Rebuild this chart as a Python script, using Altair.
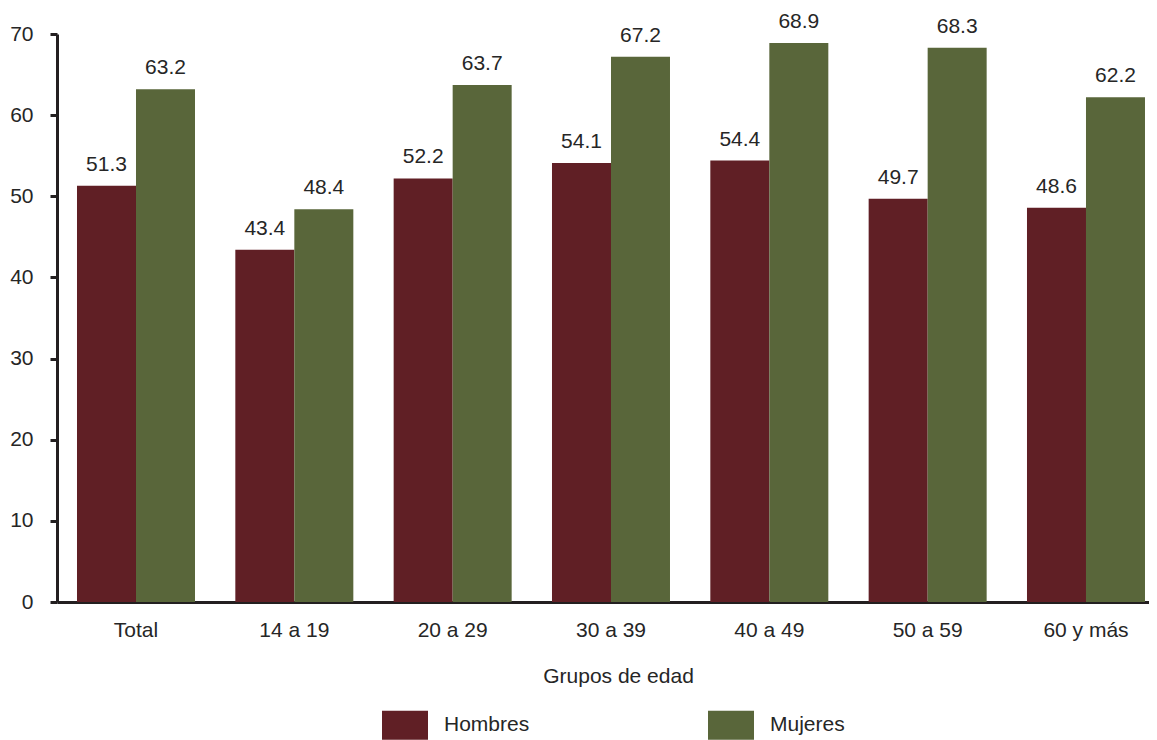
import altair as alt
import pandas as pd

grupos = ["Total", "14 a 19", "20 a 29", "30 a 39", "40 a 49", "50 a 59", "60 y más"]
hombres = [51.3, 43.4, 52.2, 54.1, 54.4, 49.7, 48.6]
mujeres = [63.2, 48.4, 63.7, 67.2, 68.9, 68.3, 62.2]
sexos = ["Hombres", "Mujeres"]
colores = ["#601F25", "#59663A"]
y_ticks = [0, 10, 20, 30, 40, 50, 60, 70]

rows = []
for g, h, m in zip(grupos, hombres, mujeres):
    rows.append({"grupo": g, "sexo": "Hombres", "valor": h})
    rows.append({"grupo": g, "sexo": "Mujeres", "valor": m})
df = pd.DataFrame(rows)

TXT = "#262626"
LINE = "#231F20"
FONT = "Liberation Sans"
FS = 21

x = alt.X(
    "grupo:N",
    sort=grupos,
    title="Grupos de edad",
    scale=alt.Scale(paddingInner=0.2547, paddingOuter=0.0758, align=0.833),
    axis=alt.Axis(
        labelAngle=0, ticks=False, tickSize=0, labelPadding=17, titlePadding=25,
        titleX=561, titleAlign="center",
        domainWidth=3, domainColor=LINE, labelFontSize=FS, titleFontSize=FS,
        titleFontWeight="normal", labelColor=TXT, titleColor=TXT,
        labelFont=FONT, titleFont=FONT,
    ),
)
xo = alt.XOffset("sexo:N", sort=sexos, scale=alt.Scale(paddingInner=0, paddingOuter=0))
y = alt.Y(
    "valor:Q",
    scale=alt.Scale(domain=[0, 70], nice=False),
    axis=alt.Axis(
        values=y_ticks, grid=False, tickSize=7, tickWidth=3, tickColor=LINE,
        domainWidth=3, domainColor=LINE, labelPadding=17, labelFontSize=FS,
        labelColor=TXT, labelFont=FONT, title=None,
    ),
)
color = alt.Color(
    "sexo:N",
    scale=alt.Scale(domain=sexos, range=colores),
    legend=alt.Legend(
        title=None, orient="none", legendX=325, legendY=668, direction="horizontal",
        symbolType="M-1,-0.63L1,-0.63L1,0.63L-1,0.63Z", symbolSize=2116,
        symbolStrokeWidth=0, labelFontSize=FS, labelOffset=16, columnPadding=178,
        padding=0, labelColor=TXT, labelFont=FONT,
    ),
)

bars = alt.Chart(df).mark_bar().encode(x=x, xOffset=xo, y=y, color=color)
text = alt.Chart(df).mark_text(
    dy=-15, baseline="alphabetic", fontSize=FS, color=TXT, font=FONT
).encode(x=x, xOffset=xo, y=y, text=alt.Text("valor:Q", format=".1f"))

chart = alt.layer(bars, text).properties(
    width=1092,
    height=568,
    autosize=alt.AutoSizeParams(type="none"),
    padding={"left": 49, "top": 26, "right": 0, "bottom": 138},
).configure_view(stroke=None)

chart.save("out.html", embed_options={"renderer": "svg", "actions": False})
